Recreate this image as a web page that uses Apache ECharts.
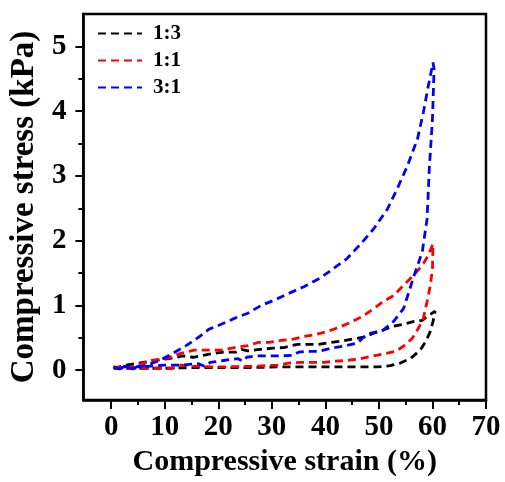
<!DOCTYPE html>
<html>
<head>
<meta charset="utf-8">
<script src="https://cdn.jsdelivr.net/npm/echarts@6/dist/echarts.min.js"></script>
<style>
  html, body { margin: 0; padding: 0; background: #fff; }
  #chart { width: 505px; height: 482px; }
</style>
</head>
<body>
<div id="chart"></div>
<script>
// Hysteresis loops: loading branch out to ~60 % strain, then unloading back to 0.
const seriesNames = ['1:3', '1:1', '3:1'];
const seriesColors = ['#000000', '#ff0000', '#0000ff'];

// 1:3
const strain13 = [0.4, 2.8, 6, 8.4, 10.8, 13.4, 15.3, 17.1, 19, 21, 23.3, 24.3, 25.5, 27.6, 30.2, 32.2, 34.8, 38.7, 41, 43.2, 45.1, 47.1, 49, 50.8, 52.7, 54.6, 56.4, 58.1, 59, 60.5,
  60.1, 59.6, 58.8, 57.7, 55.9, 54, 52.1, 49.7, 45, 40, 35, 31, 25, 20, 15, 10, 5, 0.4];
const stress13 = [0.03, 0.08, 0.12, 0.15, 0.18, 0.22, 0.2, 0.23, 0.26, 0.28, 0.28, 0.32, 0.3, 0.32, 0.34, 0.35, 0.4, 0.4, 0.43, 0.45, 0.48, 0.51, 0.57, 0.62, 0.68, 0.71, 0.75, 0.77, 0.83, 0.91,
  0.75, 0.6, 0.45, 0.31, 0.18, 0.11, 0.07, 0.05, 0.05, 0.05, 0.05, 0.05, 0.04, 0.04, 0.04, 0.03, 0.03, 0.03];

// 1:1
const strain11 = [0.4, 3, 5.5, 7.5, 10.6, 13, 15.5, 18, 20.5, 23, 25.5, 27.5, 29.5, 31.7, 34, 36, 38.2, 40.4, 42.5, 44.7, 46.9, 49, 50.8, 52.7, 54.6, 56.4, 58.1, 59.2, 60.1,
  60, 59.6, 59, 58.3, 57.4, 56.2, 54.6, 53.1, 50.8, 49, 46.6, 44.1, 41.9, 39.7, 35.4, 33.1, 31.1, 26.4, 20.5, 15.5, 13, 11.5, 8, 3, 0.4];
const stress11 = [0.05, 0.03, 0.1, 0.15, 0.19, 0.26, 0.31, 0.31, 0.31, 0.35, 0.38, 0.43, 0.43, 0.46, 0.48, 0.52, 0.55, 0.6, 0.66, 0.74, 0.83, 0.95, 1.06, 1.15, 1.31, 1.46, 1.62, 1.77, 1.95,
  1.57, 1.31, 1.06, 0.8, 0.65, 0.49, 0.37, 0.29, 0.25, 0.22, 0.18, 0.15, 0.14, 0.12, 0.12, 0.11, 0.08, 0.06, 0.05, 0.06, 0.08, 0.03, 0.03, 0.03, 0.05];

// 3:1
const strain31 = [0.4, 1.5, 2.5, 4, 5.5, 7, 9, 11.5, 14, 16.5, 18.2, 20, 23, 25.5, 28, 30.4, 33, 36, 39, 41.5, 44, 46.6, 49, 51.6, 53.4, 55.3, 57.2, 58.3, 59.2, 60.1,
  60.3, 60, 59.4, 59, 58.1, 56.4, 54.6, 52.7, 50.8, 48.4, 47, 46, 43.4, 41, 38.7, 36.5, 35, 34, 31.3, 27, 25.3, 24.6, 23.6, 21, 18.5, 17.4, 16.3, 13, 9.9, 6.9, 5, 4, 2.5, 1.5, 0.4];
const stress31 = [0.05, 0.02, 0.06, 0.02, 0.06, 0.09, 0.15, 0.26, 0.38, 0.52, 0.63, 0.69, 0.8, 0.88, 1.0, 1.08, 1.18, 1.29, 1.42, 1.57, 1.72, 1.95, 2.18, 2.49, 2.8, 3.15, 3.57, 3.98, 4.38, 4.75,
  4.65, 3.88, 3.1, 2.34, 1.83, 1.42, 0.95, 0.75, 0.62, 0.57, 0.5, 0.42, 0.37, 0.34, 0.29, 0.29, 0.28, 0.23, 0.22, 0.22, 0.2, 0.14, 0.18, 0.15, 0.12, 0.06, 0.1, 0.08, 0.08, 0.06, 0.06, 0.02, 0.06, 0.01, 0.05];

const xTicks = [0, 10, 20, 30, 40, 50, 60, 70];
const xMinorTicks = [5, 15, 25, 35, 45, 55, 65];
const yTicks = [0, 1, 2, 3, 4, 5];
const yMinorTicks = [0.5, 1.5, 2.5, 3.5, 4.5];

const FONT = '"Liberation Serif", "Times New Roman", serif';

function pairs(xs, ys) {
  return xs.map((x, i) => [x, ys[i]]);
}

const chart = echarts.init(document.getElementById('chart'), null, { renderer: 'canvas' });

const xRange = { min: -5.2, max: 70 };
const yRange = { min: -0.46, max: 5.5 };

chart.setOption({
  animation: false,
  backgroundColor: '#ffffff',
  grid: {
    left: 82, right: 19, top: 14, bottom: 80,
    show: true, borderColor: '#000', borderWidth: 2.5, backgroundColor: 'transparent'
  },
  legend: {
    left: 92, top: 18, orient: 'vertical',
    itemWidth: 44, itemHeight: 14, itemGap: 6,
    data: seriesNames,
    itemStyle: { opacity: 0 },
    textStyle: { fontFamily: FONT, fontWeight: 'bold', fontSize: 21, color: '#000', padding: [0, 0, 0, 6] }
  },
  xAxis: [{
    type: 'value', ...xRange,
    name: 'Compressive strain (%)', nameLocation: 'middle', nameGap: 47,
    nameTextStyle: { fontFamily: FONT, fontWeight: 'bold', fontSize: 30, color: '#000' },
    axisLine: { show: true, onZero: false, lineStyle: { color: '#000', width: 2.5 } },
    axisTick: { show: true, customValues: xTicks, length: 9, inside: false, lineStyle: { color: '#000', width: 2 } },
    axisLabel: { customValues: xTicks, margin: 13, fontFamily: FONT, fontWeight: 'bold', fontSize: 29, color: '#000' },
    splitLine: { show: false }
  }, {
    type: 'value', ...xRange, position: 'bottom', gridIndex: 0,
    axisLine: { show: false, onZero: false },
    axisTick: { show: true, customValues: xMinorTicks, length: 5, lineStyle: { color: '#000', width: 2 } },
    axisLabel: { show: false },
    splitLine: { show: false }
  }],
  yAxis: [{
    type: 'value', ...yRange,
    name: 'Compressive stress (kPa)', nameLocation: 'middle', nameGap: 39,
    nameTextStyle: { fontFamily: FONT, fontWeight: 'bold', fontSize: 33, color: '#000' },
    axisLine: { show: true, onZero: false, lineStyle: { color: '#000', width: 2.5 } },
    axisTick: { show: true, customValues: yTicks, length: 8, lineStyle: { color: '#000', width: 2 } },
    axisLabel: { customValues: yTicks, margin: 17, fontFamily: FONT, fontWeight: 'bold', fontSize: 29, color: '#000' },
    splitLine: { show: false }
  }, {
    type: 'value', ...yRange, position: 'left', offset: 0,
    axisLine: { show: false, onZero: false },
    axisTick: { show: true, customValues: yMinorTicks, length: 5, lineStyle: { color: '#000', width: 2 } },
    axisLabel: { show: false },
    splitLine: { show: false }
  }],
  series: [
    [strain13, stress13],
    [strain11, stress11],
    [strain31, stress31]
  ].map(([xs, ys], i) => ({
    name: seriesNames[i],
    type: 'line',
    xAxisIndex: 0, yAxisIndex: 0,
    symbol: 'none',
    data: pairs(xs, ys),
    color: seriesColors[i],
    lineStyle: { color: seriesColors[i], width: 2.8, type: [8, 5] }
  }))
});
</script>
</body>
</html>
